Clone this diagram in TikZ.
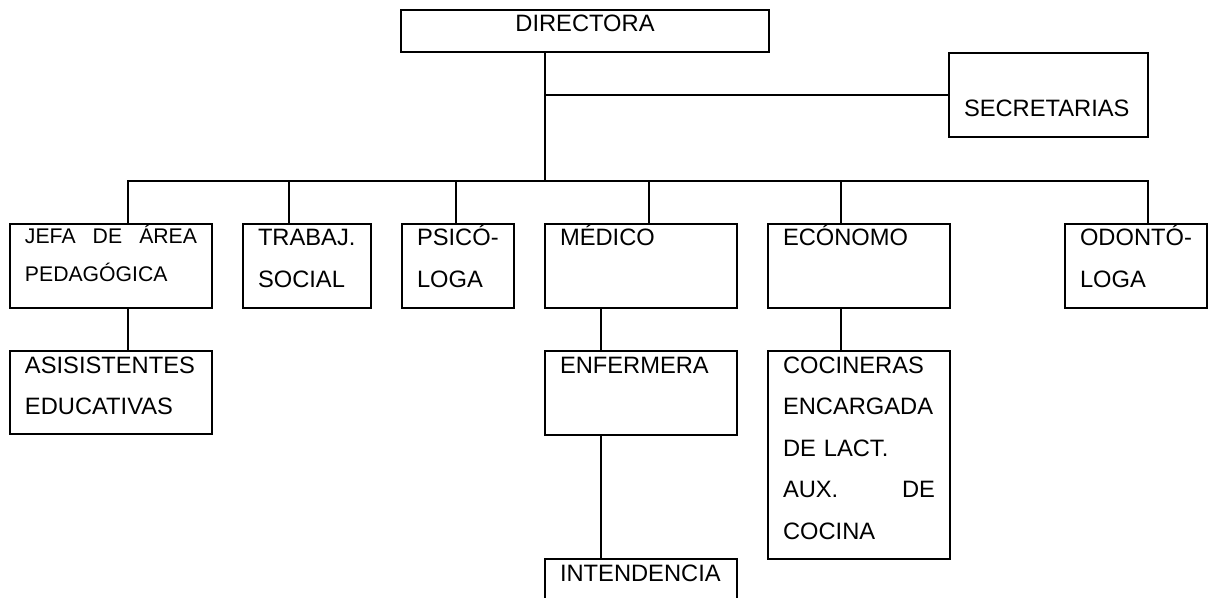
\documentclass[tikz,border=0pt]{standalone}
\usepackage{fontspec}
\setmainfont{Liberation Sans}
\usetikzlibrary{positioning,calc}

\tikzset{
  cargo/.style={draw=black,line width=0.7pt,outer sep=0pt,anchor=north west,align=left,
    inner xsep=7.5pt,inner ysep=2.5pt,text height=8.5pt,text depth=28.5pt,
    font=\fontsize{11.85}{20.8}\selectfont},
  linea/.style={line width=0.7pt}
}

\begin{document}
\begin{tikzpicture}[x=0.5pt,y=-0.5pt]
		\useasboundingbox (0,0) rectangle (1208,598);
		\clip (0,0) rectangle (1208,598);
		\node[cargo,align=center,text width=169pt,text depth=7.5pt] (dir) at (401,10) {DIRECTORA};
		\node[cargo,text width=84.5pt] (sec) at (949,53) {\mbox{}\\SECRETARIAS};
		
		\node[cargo,text width=86pt,text height=7.5pt,text depth=29.5pt,font=\fontsize{10.6}{19}\selectfont] (jefa) at (10,224) {JEFA\hfill DE\hfill ÁREA\\PEDAGÓGICA};
		\node[cargo,text width=49pt] (trab) at (243,224) {TRABAJ.\\SOCIAL};
		\node[cargo,text width=41pt] (psic) at (402,224) {PSICÓ-\\LOGA};
		\node[cargo,text width=81pt] (med) at (545,224) {MÉDICO};
		\node[cargo,text width=76pt] (econ) at (768,224) {ECÓNOMO};
		\node[cargo,text width=56pt] (odon) at (1065,224) {ODONTÓ-\\LOGA};
		
		\node[cargo,text width=86pt,text depth=28pt] (asis) at (10,351) {ASISISTENTES\\EDUCATIVAS};
		\node[cargo,text width=81pt] (enf) at (545,351) {ENFERMERA};
		\node[cargo,text width=76pt,text depth=90.5pt] (coc) at (768,351) {COCINERAS\\ENCARGADA\\DE LACT.\\AUX.\hfill DE\\COCINA};
		\node[cargo,text width=81pt,text depth=26.5pt] (int) at (545,559) {INTENDENCIA};
		
		\coordinate (bus) at (545,181);
		\coordinate (ramal) at (545,95);
		\draw[linea] (dir.south -| bus) -- (bus);
		\draw[linea] (ramal) -- (ramal -| sec.west);
		\draw[linea] (jefa.north -| 128,0) |- (bus -| 1148,0) -- (odon.north -| 1148,0);
		\foreach \n/\x in {trab/289,psic/456,med/649,econ/841}
			\draw[linea] (\n.north -| \x,0) -- (bus -| \x,0);
		\foreach \a/\b/\x in {jefa/asis/128,med/enf/601,enf/int/601,econ/coc/841}
			\draw[linea] (\a.south -| \x,0) -- (\b.north -| \x,0);
	\end{tikzpicture}
\end{document}
